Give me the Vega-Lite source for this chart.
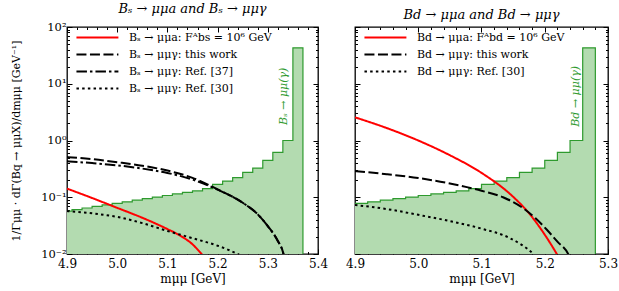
{
  "$schema": "https://vega.github.io/schema/vega-lite/v6.json",
  "padding": {"left": 10, "top": 2, "right": 6, "bottom": 2},
  "datasets": {
    "histS": [
      {"m": 4.89, "v": 0.0569}, {"m": 4.91, "v": 0.0606}, {"m": 4.93, "v": 0.0646}, {"m": 4.95, "v": 0.0689},
      {"m": 4.97, "v": 0.0733}, {"m": 4.99, "v": 0.0781}, {"m": 5.01, "v": 0.0832}, {"m": 5.03, "v": 0.0887},
      {"m": 5.05, "v": 0.0946}, {"m": 5.07, "v": 0.1007}, {"m": 5.09, "v": 0.1074}, {"m": 5.11, "v": 0.1143},
      {"m": 5.13, "v": 0.122}, {"m": 5.15, "v": 0.129}, {"m": 5.17, "v": 0.142}, {"m": 5.19, "v": 0.169},
      {"m": 5.21, "v": 0.193}, {"m": 5.23, "v": 0.222}, {"m": 5.25, "v": 0.275}, {"m": 5.27, "v": 0.327},
      {"m": 5.29, "v": 0.446}, {"m": 5.31, "v": 0.62}, {"m": 5.33, "v": 1.0}, {"m": 5.35, "v": 43},
      {"m": 5.37, "v": 0.001}
    ],
    "histD": [
      {"m": 4.90, "v": 0.0781}, {"m": 4.92, "v": 0.0832}, {"m": 4.94, "v": 0.0887}, {"m": 4.96, "v": 0.0946},
      {"m": 4.98, "v": 0.1007}, {"m": 5.00, "v": 0.1074}, {"m": 5.02, "v": 0.1143}, {"m": 5.04, "v": 0.122},
      {"m": 5.06, "v": 0.129}, {"m": 5.08, "v": 0.142}, {"m": 5.10, "v": 0.169}, {"m": 5.12, "v": 0.193},
      {"m": 5.14, "v": 0.222}, {"m": 5.16, "v": 0.275}, {"m": 5.18, "v": 0.327}, {"m": 5.20, "v": 0.446},
      {"m": 5.22, "v": 0.62}, {"m": 5.24, "v": 1.0}, {"m": 5.26, "v": 43}, {"m": 5.28, "v": 0.001}
    ],
    "linesS": [
      {"s": "Bₛ → μμa: Fᴬbs = 10⁶ GeV", "m": 4.90, "v": 0.142},
      {"s": "Bₛ → μμa: Fᴬbs = 10⁶ GeV", "m": 4.95, "v": 0.097},
      {"s": "Bₛ → μμa: Fᴬbs = 10⁶ GeV", "m": 5.00, "v": 0.065},
      {"s": "Bₛ → μμa: Fᴬbs = 10⁶ GeV", "m": 5.05, "v": 0.0435},
      {"s": "Bₛ → μμa: Fᴬbs = 10⁶ GeV", "m": 5.10, "v": 0.0275},
      {"s": "Bₛ → μμa: Fᴬbs = 10⁶ GeV", "m": 5.125, "v": 0.0212},
      {"s": "Bₛ → μμa: Fᴬbs = 10⁶ GeV", "m": 5.15, "v": 0.0148},
      {"s": "Bₛ → μμa: Fᴬbs = 10⁶ GeV", "m": 5.168, "v": 0.010},
      {"s": "Bₛ → μμa: Fᴬbs = 10⁶ GeV", "m": 5.185, "v": 0.0065},
      {"s": "Bₛ → μμγ: this work", "m": 4.90, "v": 0.51},
      {"s": "Bₛ → μμγ: this work", "m": 4.95, "v": 0.47},
      {"s": "Bₛ → μμγ: this work", "m": 5.00, "v": 0.415},
      {"s": "Bₛ → μμγ: this work", "m": 5.05, "v": 0.36},
      {"s": "Bₛ → μμγ: this work", "m": 5.10, "v": 0.295},
      {"s": "Bₛ → μμγ: this work", "m": 5.15, "v": 0.22},
      {"s": "Bₛ → μμγ: this work", "m": 5.20, "v": 0.138},
      {"s": "Bₛ → μμγ: this work", "m": 5.25, "v": 0.08},
      {"s": "Bₛ → μμγ: this work", "m": 5.28, "v": 0.050},
      {"s": "Bₛ → μμγ: this work", "m": 5.30, "v": 0.031},
      {"s": "Bₛ → μμγ: this work", "m": 5.32, "v": 0.017},
      {"s": "Bₛ → μμγ: this work", "m": 5.33, "v": 0.011},
      {"s": "Bₛ → μμγ: this work", "m": 5.34, "v": 0.004},
      {"s": "Bₛ → μμγ: Ref. [37]", "m": 4.90, "v": 0.43},
      {"s": "Bₛ → μμγ: Ref. [37]", "m": 4.95, "v": 0.40},
      {"s": "Bₛ → μμγ: Ref. [37]", "m": 5.00, "v": 0.365},
      {"s": "Bₛ → μμγ: Ref. [37]", "m": 5.05, "v": 0.32},
      {"s": "Bₛ → μμγ: Ref. [37]", "m": 5.10, "v": 0.268},
      {"s": "Bₛ → μμγ: Ref. [37]", "m": 5.15, "v": 0.205},
      {"s": "Bₛ → μμγ: Ref. [37]", "m": 5.20, "v": 0.136},
      {"s": "Bₛ → μμγ: Ref. [37]", "m": 5.25, "v": 0.08},
      {"s": "Bₛ → μμγ: Ref. [37]", "m": 5.28, "v": 0.050},
      {"s": "Bₛ → μμγ: Ref. [37]", "m": 5.30, "v": 0.031},
      {"s": "Bₛ → μμγ: Ref. [37]", "m": 5.32, "v": 0.017},
      {"s": "Bₛ → μμγ: Ref. [37]", "m": 5.33, "v": 0.011},
      {"s": "Bₛ → μμγ: Ref. [37]", "m": 5.34, "v": 0.004},
      {"s": "Bₛ → μμγ: Ref. [30]", "m": 4.90, "v": 0.057},
      {"s": "Bₛ → μμγ: Ref. [30]", "m": 4.95, "v": 0.052},
      {"s": "Bₛ → μμγ: Ref. [30]", "m": 5.00, "v": 0.045},
      {"s": "Bₛ → μμγ: Ref. [30]", "m": 5.05, "v": 0.035},
      {"s": "Bₛ → μμγ: Ref. [30]", "m": 5.10, "v": 0.0255},
      {"s": "Bₛ → μμγ: Ref. [30]", "m": 5.15, "v": 0.019},
      {"s": "Bₛ → μμγ: Ref. [30]", "m": 5.20, "v": 0.014},
      {"s": "Bₛ → μμγ: Ref. [30]", "m": 5.225, "v": 0.0115},
      {"s": "Bₛ → μμγ: Ref. [30]", "m": 5.25, "v": 0.009},
      {"s": "Bₛ → μμγ: Ref. [30]", "m": 5.27, "v": 0.007}
    ],
    "linesD": [
      {"s": "Bd → μμa: Fᴬbd = 10⁶ GeV", "m": 4.90, "v": 2.56},
      {"s": "Bd → μμa: Fᴬbd = 10⁶ GeV", "m": 4.95, "v": 1.66},
      {"s": "Bd → μμa: Fᴬbd = 10⁶ GeV", "m": 5.00, "v": 1.0},
      {"s": "Bd → μμa: Fᴬbd = 10⁶ GeV", "m": 5.05, "v": 0.55},
      {"s": "Bd → μμa: Fᴬbd = 10⁶ GeV", "m": 5.10, "v": 0.269},
      {"s": "Bd → μμa: Fᴬbd = 10⁶ GeV", "m": 5.15, "v": 0.102},
      {"s": "Bd → μμa: Fᴬbd = 10⁶ GeV", "m": 5.175, "v": 0.0525},
      {"s": "Bd → μμa: Fᴬbd = 10⁶ GeV", "m": 5.20, "v": 0.0219},
      {"s": "Bd → μμa: Fᴬbd = 10⁶ GeV", "m": 5.219, "v": 0.010},
      {"s": "Bd → μμa: Fᴬbd = 10⁶ GeV", "m": 5.23, "v": 0.006},
      {"s": "Bd → μμγ: this work", "m": 4.90, "v": 0.289},
      {"s": "Bd → μμγ: this work", "m": 4.95, "v": 0.255},
      {"s": "Bd → μμγ: this work", "m": 5.00, "v": 0.218},
      {"s": "Bd → μμγ: this work", "m": 5.05, "v": 0.175},
      {"s": "Bd → μμγ: this work", "m": 5.10, "v": 0.130},
      {"s": "Bd → μμγ: this work", "m": 5.134, "v": 0.100},
      {"s": "Bd → μμγ: this work", "m": 5.166, "v": 0.064},
      {"s": "Bd → μμγ: this work", "m": 5.185, "v": 0.043},
      {"s": "Bd → μμγ: this work", "m": 5.203, "v": 0.027},
      {"s": "Bd → μμγ: this work", "m": 5.22, "v": 0.0165},
      {"s": "Bd → μμγ: this work", "m": 5.237, "v": 0.010},
      {"s": "Bd → μμγ: this work", "m": 5.245, "v": 0.006},
      {"s": "Bd → μμγ: Ref. [30]", "m": 4.90, "v": 0.073},
      {"s": "Bd → μμγ: Ref. [30]", "m": 4.95, "v": 0.062},
      {"s": "Bd → μμγ: Ref. [30]", "m": 5.00, "v": 0.049},
      {"s": "Bd → μμγ: Ref. [30]", "m": 5.05, "v": 0.038},
      {"s": "Bd → μμγ: Ref. [30]", "m": 5.10, "v": 0.028},
      {"s": "Bd → μμγ: Ref. [30]", "m": 5.145, "v": 0.019},
      {"s": "Bd → μμγ: Ref. [30]", "m": 5.182, "v": 0.010},
      {"s": "Bd → μμγ: Ref. [30]", "m": 5.195, "v": 0.007}
    ],
    "labS": [{"m": 5.332, "v": 6, "t": "Bₛ → μμ(γ)"}],
    "labD": [{"m": 5.249, "v": 6, "t": "Bd → μμ(γ)"}]
  },
  "hconcat": [
    {
      "width": 251,
      "height": 227,
      "title": {"text": "Bₛ → μμa and Bₛ → μμγ"},
      "layer": [
        {
          "data": {"name": "histS"},
          "mark": {"type": "area", "interpolate": "step-after", "color": "#b3dbb0", "opacity": 1, "clip": true},
          "encoding": {
            "x": {"field": "m", "type": "quantitative", "scale": {"domain": [4.9, 5.4], "nice": false, "zero": false},
              "axis": {"orient": "bottom", "values": [4.9, 5.0, 5.1, 5.2, 5.3, 5.4], "format": ".1f", "tickSize": -5, "labelPadding": 9, "labelFlush": false, "labelOverlap": false, "title": "mμμ [GeV]", "titlePadding": 4}},
            "y": {"field": "v", "type": "quantitative", "scale": {"type": "log", "domain": [0.01, 100], "nice": false},
              "axis": {"orient": "left", "values": [0.01, 0.1, 1, 10, 100], "tickSize": -5, "labelPadding": 6, "labelOverlap": false, "labelFontSize": 11.5,
                "labelExpr": "datum.value > 50 ? '10²' : datum.value > 5 ? '10¹' : datum.value > 0.5 ? '10⁰' : datum.value > 0.05 ? '10⁻¹' : '10⁻²'",
                "title": "1/Γμμ · dΓ(Bq → μμX)/dmμμ  [GeV⁻¹]", "titleFontSize": 11, "titlePadding": 19}},
            "y2": {"datum": 0.001}
          }
        },
        {
          "data": {"name": "histS"},
          "mark": {"type": "line", "interpolate": "step-after", "color": "#2e9a2e", "strokeWidth": 1.2, "clip": true},
          "encoding": {
            "x": {"field": "m", "type": "quantitative",
              "axis": {"orient": "bottom", "values": [4.92, 4.94, 4.96, 4.98, 5.02, 5.04, 5.06, 5.08, 5.12, 5.14, 5.16, 5.18, 5.22, 5.24, 5.26, 5.28, 5.32, 5.34, 5.36, 5.38], "tickSize": -2.5, "labels": false, "title": null}},
            "y": {"field": "v", "type": "quantitative",
              "axis": {"orient": "left", "values": [0.02, 0.03, 0.04, 0.05, 0.06, 0.07, 0.08, 0.09, 0.2, 0.3, 0.4, 0.5, 0.6, 0.7, 0.8, 0.9, 2, 3, 4, 5, 6, 7, 8, 9, 20, 30, 40, 50, 60, 70, 80, 90], "tickSize": -2.5, "labels": false, "title": null}}
          }
        },
        {
          "data": {"name": "linesS"},
          "mark": {"type": "line", "strokeWidth": 2, "interpolate": "monotone", "clip": true},
          "encoding": {
            "x": {"field": "m", "type": "quantitative",
              "axis": {"orient": "top", "values": [4.9, 5.0, 5.1, 5.2, 5.3, 5.4], "tickSize": -5, "labels": false, "title": null}},
            "y": {"field": "v", "type": "quantitative",
              "axis": {"orient": "right", "values": [0.01, 0.1, 1, 10, 100], "tickSize": -5, "labels": false, "title": null}},
            "color": {"field": "s", "type": "nominal", "title": null,
              "scale": {"domain": ["Bₛ → μμa: Fᴬbs = 10⁶ GeV", "Bₛ → μμγ: this work", "Bₛ → μμγ: Ref. [37]", "Bₛ → μμγ: Ref. [30]"], "range": ["#ff0000", "#000000", "#000000", "#000000"]}},
            "strokeDash": {"field": "s", "type": "nominal", "title": null,
              "scale": {"domain": ["Bₛ → μμa: Fᴬbs = 10⁶ GeV", "Bₛ → μμγ: this work", "Bₛ → μμγ: Ref. [37]", "Bₛ → μμγ: Ref. [30]"], "range": [[1, 0], [10, 3.5], [10.5, 3, 2.5, 3], [2.5, 3.2]]}}
          }
        },
        {
          "data": {"name": "labS"},
          "mark": {"type": "text", "angle": 270, "color": "#2e9a2e", "fontSize": 11, "fontStyle": "italic", "align": "center", "baseline": "middle"},
          "encoding": {
            "x": {"field": "m", "type": "quantitative",
              "axis": {"orient": "top", "values": [4.92, 4.94, 4.96, 4.98, 5.02, 5.04, 5.06, 5.08, 5.12, 5.14, 5.16, 5.18, 5.22, 5.24, 5.26, 5.28, 5.32, 5.34, 5.36, 5.38], "tickSize": -2.5, "labels": false, "title": null}},
            "y": {"field": "v", "type": "quantitative",
              "axis": {"orient": "right", "values": [0.02, 0.03, 0.04, 0.05, 0.06, 0.07, 0.08, 0.09, 0.2, 0.3, 0.4, 0.5, 0.6, 0.7, 0.8, 0.9, 2, 3, 4, 5, 6, 7, 8, 9, 20, 30, 40, 50, 60, 70, 80, 90], "tickSize": -2.5, "labels": false, "title": null}},
            "text": {"field": "t"}
          }
        }
      ],
      "resolve": {"axis": {"x": "independent", "y": "independent"}}
    },
    {
      "width": 253,
      "height": 227,
      "title": {"text": "Bd → μμa and Bd → μμγ"},
      "layer": [
        {
          "data": {"name": "histD"},
          "mark": {"type": "area", "interpolate": "step-after", "color": "#b3dbb0", "opacity": 1, "clip": true},
          "encoding": {
            "x": {"field": "m", "type": "quantitative", "scale": {"domain": [4.9, 5.3], "nice": false, "zero": false},
              "axis": {"orient": "bottom", "values": [4.9, 5.0, 5.1, 5.2, 5.3], "format": ".1f", "tickSize": -5, "labelPadding": 9, "labelFlush": false, "labelOverlap": false, "title": "mμμ [GeV]", "titlePadding": 4}},
            "y": {"field": "v", "type": "quantitative", "scale": {"type": "log", "domain": [0.01, 100], "nice": false},
              "axis": {"orient": "left", "values": [0.01, 0.1, 1, 10, 100], "tickSize": -5, "labels": false, "title": null}},
            "y2": {"datum": 0.001}
          }
        },
        {
          "data": {"name": "histD"},
          "mark": {"type": "line", "interpolate": "step-after", "color": "#2e9a2e", "strokeWidth": 1.2, "clip": true},
          "encoding": {
            "x": {"field": "m", "type": "quantitative",
              "axis": {"orient": "bottom", "values": [4.92, 4.94, 4.96, 4.98, 5.02, 5.04, 5.06, 5.08, 5.12, 5.14, 5.16, 5.18, 5.22, 5.24, 5.26, 5.28], "tickSize": -2.5, "labels": false, "title": null}},
            "y": {"field": "v", "type": "quantitative",
              "axis": {"orient": "left", "values": [0.02, 0.03, 0.04, 0.05, 0.06, 0.07, 0.08, 0.09, 0.2, 0.3, 0.4, 0.5, 0.6, 0.7, 0.8, 0.9, 2, 3, 4, 5, 6, 7, 8, 9, 20, 30, 40, 50, 60, 70, 80, 90], "tickSize": -2.5, "labels": false, "title": null}}
          }
        },
        {
          "data": {"name": "linesD"},
          "mark": {"type": "line", "strokeWidth": 2, "interpolate": "monotone", "clip": true},
          "encoding": {
            "x": {"field": "m", "type": "quantitative",
              "axis": {"orient": "top", "values": [4.9, 5.0, 5.1, 5.2, 5.3], "tickSize": -5, "labels": false, "title": null}},
            "y": {"field": "v", "type": "quantitative",
              "axis": {"orient": "right", "values": [0.01, 0.1, 1, 10, 100], "tickSize": -5, "labels": false, "title": null}},
            "color": {"field": "s", "type": "nominal", "title": null,
              "scale": {"domain": ["Bd → μμa: Fᴬbd = 10⁶ GeV", "Bd → μμγ: this work", "Bd → μμγ: Ref. [30]"], "range": ["#ff0000", "#000000", "#000000"]}},
            "strokeDash": {"field": "s", "type": "nominal", "title": null,
              "scale": {"domain": ["Bd → μμa: Fᴬbd = 10⁶ GeV", "Bd → μμγ: this work", "Bd → μμγ: Ref. [30]"], "range": [[1, 0], [10, 3.5], [2.5, 3.2]]}}
          }
        },
        {
          "data": {"name": "labD"},
          "mark": {"type": "text", "angle": 270, "color": "#2e9a2e", "fontSize": 11, "fontStyle": "italic", "align": "center", "baseline": "middle"},
          "encoding": {
            "x": {"field": "m", "type": "quantitative",
              "axis": {"orient": "top", "values": [4.92, 4.94, 4.96, 4.98, 5.02, 5.04, 5.06, 5.08, 5.12, 5.14, 5.16, 5.18, 5.22, 5.24, 5.26, 5.28], "tickSize": -2.5, "labels": false, "title": null}},
            "y": {"field": "v", "type": "quantitative",
              "axis": {"orient": "right", "values": [0.02, 0.03, 0.04, 0.05, 0.06, 0.07, 0.08, 0.09, 0.2, 0.3, 0.4, 0.5, 0.6, 0.7, 0.8, 0.9, 2, 3, 4, 5, 6, 7, 8, 9, 20, 30, 40, 50, 60, 70, 80, 90], "tickSize": -2.5, "labels": false, "title": null}},
            "text": {"field": "t"}
          }
        }
      ],
      "resolve": {"axis": {"x": "independent", "y": "independent"}}
    }
  ],
  "spacing": 37,
  "bounds": "flush",
  "resolve": {"scale": {"color": "independent", "strokeDash": "independent"}, "legend": {"color": "independent", "strokeDash": "independent"}},
  "config": {
    "font": "DejaVu Serif",
    "view": {"stroke": "black", "strokeWidth": 1.3},
    "axis": {"domain": false, "grid": false, "ticks": true, "tickColor": "black", "tickWidth": 1, "labelColor": "black", "labelFont": "DejaVu Serif", "labelFontSize": 12, "titleFont": "DejaVu Serif", "titleFontSize": 12, "titleFontWeight": "normal", "titleColor": "black"},
    "title": {"font": "DejaVu Serif", "fontSize": 13, "fontWeight": "normal", "fontStyle": "italic", "color": "black", "offset": 5},
    "legend": {"orient": "top-left", "offset": 2, "padding": 2, "symbolType": "M-0.2,0H7.8", "symbolSize": 110, "symbolStrokeWidth": 2, "labelFont": "DejaVu Serif", "labelFontSize": 11, "labelColor": "black", "labelOffset": 45, "rowPadding": 5, "labelLimit": 400}
  }
}
